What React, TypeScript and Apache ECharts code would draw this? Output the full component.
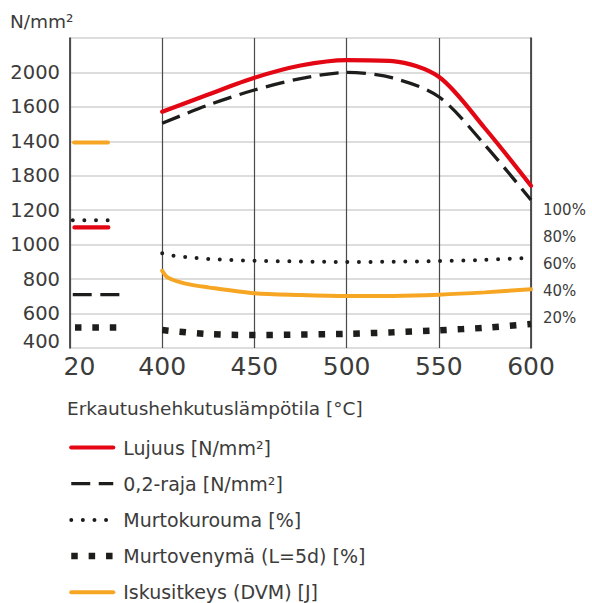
import { useEffect, useRef } from 'react';
import * as echarts from 'echarts';

// Axis labels
const X_TICK_LABELS = ['20', '400', '450', '500', '550', '600'];
const Y_TICK_LABELS = ['400', '600', '800', '1000', '1200', '1800', '1400', '1600', '2000'];
const PERCENT_TICKS = [20, 40, 60, 80, 100];

// Values at room temperature (20 °C)
const ROOM_TENSILE = 1100;
const ROOM_PROOF = 710;
const ROOM_REDUCTION = 92.5;
const ROOM_ELONGATION = 13;
const ROOM_IMPACT = 150;

// Strength after tempering [N/mm²]
const STRENGTH_TEMPS = [400, 425, 450, 475, 500, 525, 550, 575, 600];
const TENSILE = [1772, 1872, 1969, 2040, 2072, 2066, 1975, 1676, 1342];
const PROOF = [1705, 1811, 1898, 1964, 2000, 1968, 1859, 1579, 1259];

// Reduction of area [%]
const REDUCTION_TEMPS = [400, 406, 413, 425, 450, 475, 500, 525, 550, 575, 600];
const REDUCTION = [67.9, 66.1, 65.2, 63.7, 62.4, 61.9, 61.5, 61.7, 62.2, 63.1, 64.7];

// Elongation (L=5d) [%]
const ELONGATION_TEMPS = [400, 425, 450, 475, 500, 525, 550, 575, 600];
const ELONGATION = [11.1, 8.1, 7.4, 7.7, 8.3, 9.4, 10.9, 12.8, 15.6];

// Impact energy (DVM) [J]
const IMPACT_TEMPS = [400, 403, 412, 425, 450, 475, 500, 525, 550, 575, 600];
const IMPACT = [55, 50, 45.7, 42.7, 38.3, 37, 36.3, 36.4, 37.3, 39, 41.3];

const FONT = '"DejaVu Sans", "Noto Sans", sans-serif';
const TEXT = '#3c3c3b';
const RED = '#e30613';
const DARK = '#1d1d1b';
const ORANGE = '#f6a623';

// The 20 °C value is drawn as a short level mark at the left of the plot,
// separated from the tempering curve by a gap.
function seriesData(stub: [number, number], roomValue: number, temps: number[], values: number[]) {
  return [
    [stub[0], roomValue],
    [stub[1], roomValue],
    [385, '-'],
    ...temps.map((t, i) => [t, values[i]]),
  ];
}

const NAMES = {
  tensile: 'Lujuus [N/mm²]',
  proof: '0,2-raja [N/mm²]',
  reduction: 'Murtokurouma [%]',
  elongation: 'Murtovenymä (L=5d) [%]',
  impact: 'Iskusitkeys (DVM) [J]',
};

const STYLES = {
  tensile: { color: RED, width: 4.2, cap: 'round' as const },
  proof: { color: DARK, width: 3.3, type: [19, 8.5], cap: 'butt' as const },
  reduction: { color: DARK, width: 4, type: [0, 11.6], cap: 'round' as const },
  elongation: { color: DARK, width: 6.5, type: [6.5, 10.9], cap: 'butt' as const },
  impact: { color: ORANGE, width: 4, cap: 'round' as const },
};

export default function App() {
  const ref = useRef<HTMLDivElement>(null);

  useEffect(() => {
    document.body.style.margin = '0';
    const chart = echarts.init(ref.current!, undefined, { renderer: 'svg' });

    const textBase = { fontFamily: FONT, fontWeight: 'normal' as const, color: TEXT };

    const option: any = {
      animation: false,
      backgroundColor: '#ffffff',
      textStyle: { fontFamily: FONT },
      title: [
        {
          text: 'N/mm²',
          left: 10,
          top: 12,
          padding: 0,
          textStyle: { ...textBase, fontSize: 18.5 },
        },
        {
          text: 'Erkautushehkutuslämpötila [°C]',
          left: 67,
          top: 399,
          padding: 0,
          textStyle: { ...textBase, fontSize: 18.5 },
        },
      ],
      grid: { left: 70, right: 61, top: 38, bottom: 255 },
      xAxis: {
        type: 'value',
        min: 350,
        max: 600,
        interval: 50,
        z: 2,
        axisLine: { show: false },
        axisTick: { show: false },
        splitLine: { show: true, lineStyle: { color: '#4a4a4a', width: 1.2 } },
        axisLabel: {
          margin: 6,
          ...textBase,
          fontSize: 25,
          formatter: (v: number) => {
            const label = X_TICK_LABELS[Math.round((v - 350) / 50)] ?? '';
            return v === 350 ? `{first|${label}}` : label;
          },
          rich: {
            first: { padding: [0, 0, 0, 19], ...textBase, fontSize: 25 },
          },
        },
      },
      yAxis: [
        {
          type: 'value',
          min: 400,
          max: 2200,
          interval: 200,
          axisLine: { show: true, lineStyle: { color: '#222', width: 1.5 } },
          axisTick: { show: false },
          splitLine: { show: true, lineStyle: { color: '#d2d2d2', width: 1.5 } },
          axisLabel: {
            margin: 10,
            ...textBase,
            fontSize: 19.5,
            formatter: (v: number) => {
              const label = Y_TICK_LABELS[Math.round((v - 400) / 200)] ?? '';
              return v === 400 ? `{low|${label}}` : label;
            },
            rich: {
              low: { padding: [0, 0, 14, 0], ...textBase, fontSize: 19.5 },
            },
          },
        },
        {
          type: 'value',
          position: 'right',
          min: -2.2,
          max: 227.4,
          axisLine: { show: true, lineStyle: { color: '#222', width: 1.5 } },
          axisTick: { show: false },
          splitLine: { show: false },
          axisLabel: {
            customValues: PERCENT_TICKS,
            margin: 12,
            ...textBase,
            fontSize: 15,
            formatter: (v: number) => `${v}%`,
          },
        },
      ],
      legend: {
        orient: 'vertical',
        left: 68,
        top: 438,
        height: 165,
        padding: 0,
        itemWidth: 42,
        itemHeight: 14,
        itemGap: 17.2,
        selectedMode: false,
        itemStyle: { opacity: 0 },
        textStyle: { ...textBase, fontSize: 19, padding: [0, 0, 0, 5] },
        data: (Object.keys(NAMES) as (keyof typeof NAMES)[]).map((k) => ({
          name: NAMES[k],
          lineStyle: STYLES[k],
          itemStyle: { opacity: 0 },
        })),
      },
      series: [
        {
          name: NAMES.tensile,
          type: 'line',
          yAxisIndex: 0,
          symbol: 'none',
          smooth: 0.3,
          lineStyle: STYLES.tensile,
          z: 5,
          data: seriesData([352.4, 370.8], ROOM_TENSILE, STRENGTH_TEMPS, TENSILE),
        },
        {
          name: NAMES.proof,
          type: 'line',
          yAxisIndex: 0,
          symbol: 'none',
          smooth: 0.3,
          lineStyle: STYLES.proof,
          z: 4,
          data: seriesData([351.5, 376.8], ROOM_PROOF, STRENGTH_TEMPS, PROOF),
        },
        {
          name: NAMES.reduction,
          type: 'line',
          yAxisIndex: 1,
          symbol: 'none',
          smooth: 0.3,
          lineStyle: STYLES.reduction,
          z: 4,
          data: seriesData([351.5, 370.8], ROOM_REDUCTION, REDUCTION_TEMPS, REDUCTION),
        },
        {
          name: NAMES.elongation,
          type: 'line',
          yAxisIndex: 1,
          symbol: 'none',
          smooth: 0.3,
          lineStyle: STYLES.elongation,
          z: 4,
          data: seriesData([352.7, 375.1], ROOM_ELONGATION, ELONGATION_TEMPS, ELONGATION),
        },
        {
          name: NAMES.impact,
          type: 'line',
          yAxisIndex: 1,
          symbol: 'none',
          smooth: 0.3,
          lineStyle: STYLES.impact,
          z: 4,
          data: seriesData([352.2, 370.6], ROOM_IMPACT, IMPACT_TEMPS, IMPACT),
        },
      ],
    };

    chart.setOption(option);
    return () => chart.dispose();
  }, []);

  return <div ref={ref} style={{ width: 592, height: 603 }} />;
}
